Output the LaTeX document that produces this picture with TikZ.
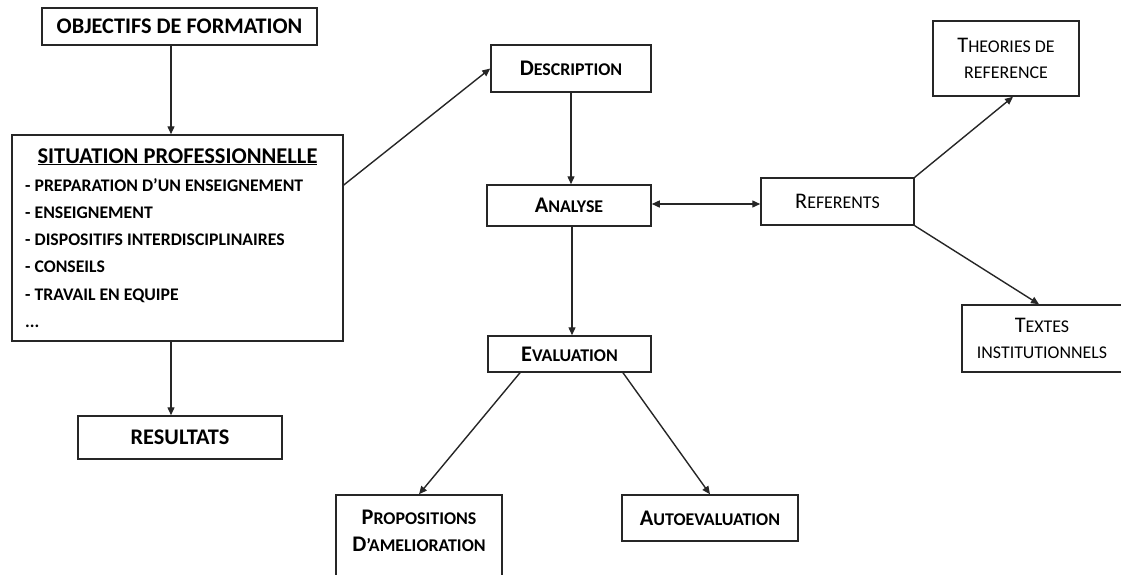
\documentclass[tikz,border=0pt]{standalone}
\usepackage{fontspec}
\setmainfont{Carlito}
\usetikzlibrary{arrows.meta}
% small capitals built from a reduced size of the capitals
\newcommand\smc[1]{{\fontsize{17.9}{20}\selectfont #1}}
\begin{document}
\begin{tikzpicture}[x=1pt,y=-1pt,
  box/.style={draw=black!85, line width=1.5pt, inner sep=0pt, align=center,
              font=\fontsize{22.3}{26.5}\selectfont},
  bbox/.style={box, font=\fontsize{22.3}{26.5}\selectfont\bfseries},
  plain/.style={inner sep=0pt, align=center, font=\fontsize{22.3}{27}\selectfont\bfseries},
  item/.style={inner sep=0pt, anchor=base west, font=\fontsize{17.7}{20}\selectfont\bfseries},
  conn/.style={draw=black!85, line width=1.4pt, -{Triangle[length=8pt,width=7pt]}},
  both/.style={conn, {Triangle[length=8pt,width=7pt]}-{Triangle[length=8pt,width=7pt]}},
]
\useasboundingbox (0,0) rectangle (1121,574);
\clip (0,0) rectangle (1121,574);

% left column
\node[bbox, minimum width=275pt, minimum height=37pt] (obj) at (179.5,26.5) {OBJECTIFS DE FORMATION};
\node[box, minimum width=331pt, minimum height=206pt] (sit) at (177.5,238) {};
\node[inner sep=0pt, anchor=base, font=\fontsize{22.5}{26}\selectfont\bfseries] (sittitle) at (177.5,163)
  {\underline{SITUATION PROFESSIONNELLE}};
\node[item] (l1) at (25,191.0) {- PREPARATION D’UN ENSEIGNEMENT};
\node[item] (l2) at (25,218.3) {- ENSEIGNEMENT};
\node[item] (l3) at (25,245.6) {- DISPOSITIFS INTERDISCIPLINAIRES};
\node[item] (l4) at (25,272.9) {- CONSEILS};
\node[item] (l5) at (25,300.2) {- TRAVAIL EN EQUIPE};
\node[item] (l6) at (25,327.5) {...};
\node[bbox, minimum width=204pt, minimum height=43pt] (res) at (180,437.5) {RESULTATS};

% central column
\node[bbox, minimum width=160pt, minimum height=47pt] (desc) at (571,68.5) {D\smc{ESCRIPTION}};
\node[bbox, minimum width=164pt, minimum height=41pt] (ana) at (569,205.5) {A\smc{NALYSE}};
\node[bbox, minimum width=163pt, minimum height=36pt] (eva) at (569.5,354) {E\smc{VALUATION}};
\node[box, minimum width=166pt, minimum height=81pt] (prop) at (419,535.5) {};
\node[plain] (proptext) at (419,531) {P\smc{ROPOSITIONS}\\D\smc{’AMELIORATION}};
\node[bbox, minimum width=176pt, minimum height=46pt] (auto) at (710,518) {A\smc{UTOEVALUATION}};

% right column
\node[box, minimum width=153pt, minimum height=47pt] (ref) at (837.5,201.5) {R\smc{EFERENTS}};
\node[box, minimum width=146pt, minimum height=75pt] (theo) at (1006,58.5) {T\smc{HEORIES DE}\\\smc{REFERENCE}};
\node[box, minimum width=160pt, minimum height=67pt] (txt) at (1042,338.5) {T\smc{EXTES}\\\smc{INSTITUTIONNELS}};

% connectors
\draw[conn] ([xshift=-8.5pt]obj.south) -- ([xshift=-6.5pt]sit.north);
\draw[conn] ([xshift=-6.5pt]sit.south) -- ([xshift=-9pt]res.north);
\draw[conn] ([yshift=53pt]sit.east) -- (desc.west);
\draw[conn] (desc.south) -- (desc.south |- ana.north);
\draw[both] ([yshift=1.5pt]ana.east) -- ([yshift=1.5pt]ana.east -| ref.west);
\draw[conn] ([xshift=3pt]ana.south) -- ([xshift=3pt]ana.south |- eva.north);
\draw[conn] (ref.north east) -- ([xshift=7pt]theo.south);
\draw[conn] (ref.south east) -- ([xshift=-3pt]txt.north);
\draw[conn] ([xshift=-49.5pt]eva.south) -- (prop.north);
\draw[conn] ([xshift=53.5pt]eva.south) -- (auto.north);
\end{tikzpicture}
\end{document}
